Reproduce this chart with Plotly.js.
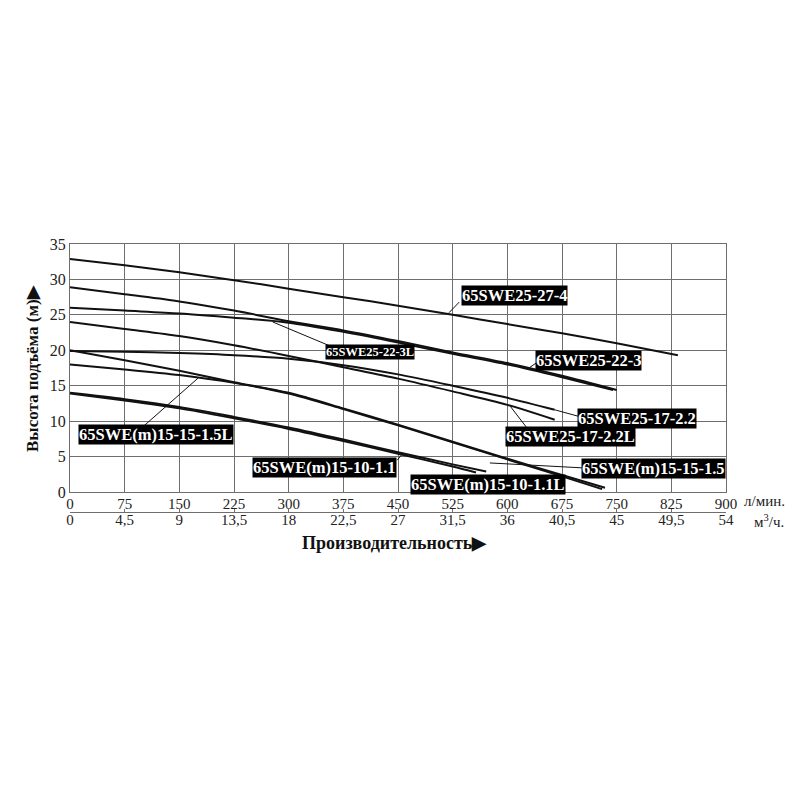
<!DOCTYPE html>
<html>
<head>
<meta charset="utf-8">
<script src="https://cdn.plot.ly/plotly-3.0.1.min.js"></script>
<style>body{margin:0;background:#fff}#chart{width:800px;height:800px}</style>
</head>
<body>
<div id="chart"></div>
<script>
// ---- data ----
const flowLpm   = [0, 75, 150, 225, 300, 375, 450, 525, 600, 675, 750, 825, 900];
const flowM3h   = ['0', '4,5', '9', '13,5', '18', '22,5', '27', '31,5', '36', '40,5', '45', '49,5', '54'];
const headTicks = [0, 5, 10, 15, 20, 25, 30, 35];

const q27_4 = [0, 75, 150, 225, 300, 375, 450, 525, 600, 675, 750, 834];
const h27_4 = [32.9, 32.0, 31.0, 29.9, 28.7, 27.5, 26.3, 25.0, 23.7, 22.4, 21.0, 19.3];

const q22_3 = [0, 75, 150, 225, 300, 375, 450, 525, 600, 675, 750];
const h22_3 = [28.9, 27.9, 26.9, 25.6, 24.1, 22.8, 21.3, 19.7, 18.2, 16.4, 14.4];

const q22_3L = [0, 75, 150, 225, 300, 375, 450, 525, 600, 675, 745];
const h22_3L = [26.0, 25.6, 25.2, 24.6, 23.9, 22.6, 21.1, 19.5, 18.0, 16.2, 14.4];

const q17_22 = [0, 75, 150, 225, 300, 375, 450, 525, 600, 665];
const h17_22 = [19.9, 19.8, 19.6, 19.3, 18.8, 17.9, 16.6, 15.0, 13.3, 11.6];

const q17_22L = [0, 75, 150, 225, 300, 375, 450, 525, 600, 665];
const h17_22L = [24.0, 23.0, 22.0, 20.7, 19.2, 17.6, 16.0, 14.2, 12.3, 10.2];

const q15_15 = [0, 75, 150, 225, 300, 375, 450, 525, 600, 675, 734];
const h15_15 = [20.0, 18.6, 17.1, 15.5, 14.0, 11.8, 9.5, 7.1, 4.7, 2.4, 0.6];

const q15_15L = [0, 75, 150, 225, 300, 375, 450, 525, 600, 675, 730];
const h15_15L = [18.0, 17.3, 16.5, 15.4, 13.9, 11.7, 9.4, 7.0, 4.6, 2.2, 0.4];

const q10_11 = [0, 75, 150, 225, 300, 375, 450, 525, 571];
const h10_11 = [14.0, 13.1, 12.0, 10.6, 9.1, 7.4, 5.6, 3.9, 2.9];

const q10_11L = [0, 75, 150, 225, 300, 375, 450, 525, 557];
const h10_11L = [13.9, 12.9, 11.8, 10.4, 8.9, 7.2, 5.4, 3.6, 2.75];

const seriesNames = ['65SWE25-27-4', '65SWE25-22-3', '65SWE25-22-3L', '65SWE25-17-2.2',
  '65SWE25-17-2.2L', '65SWE(m)15-15-1.5', '65SWE(m)15-15-1.5L', '65SWE(m)15-10-1.1', '65SWE(m)15-10-1.1L'];

// ---- chart ----
const SERIF = 'Liberation Serif, Times New Roman, serif';
const GRID = '#6e6e6e';
const series = [
  [q27_4, h27_4], [q22_3, h22_3], [q22_3L, h22_3L], [q17_22, h17_22], [q17_22L, h17_22L],
  [q15_15, h15_15], [q15_15L, h15_15L], [q10_11, h10_11], [q10_11L, h10_11L]
];
const traces = series.map((s, i) => ({
  type: 'scatter', mode: 'lines', x: s[0], y: s[1], name: seriesNames[i],
  line: {color: '#111', width: 2, shape: 'spline', smoothing: 0.8},
  hoverinfo: 'name', showlegend: false
}));
traces.push({type: 'scatter', mode: 'lines', x: [], y: [], xaxis: 'x2', yaxis: 'y', showlegend: false, hoverinfo: 'skip'});

// label boxes: [text, x, y, fontsize]
const labels = [
  ['65SWE25-27-4', 610, 27.8, 16.5],
  ['65SWE25-22-3L', 411, 19.75, 12.5],
  ['65SWE25-22-3', 712, 18.6, 16.5],
  ['65SWE25-17-2.2', 778, 10.4, 16.5],
  ['65SWE25-17-2.2L', 687, 7.8, 16.5],
  ['65SWE(m)15-15-1.5L', 118, 8.1, 16.5],
  ['65SWE(m)15-10-1.1', 349, 3.4, 16.5],
  ['65SWE(m)15-10-1.1L', 573, 1.0, 16.5],
  ['65SWE(m)15-15-1.5', 800, 3.3, 16.5]
];
// pointer lines: [x0, y0, x1, y1]
const pointers = [
  [520, 25.3, 534, 26.8],
  [278, 24.0, 357, 20.6],
  [631, 17.6, 641, 18.3],
  [665, 11.6, 697, 10.7],
  [604, 12.1, 628, 8.9],
  [100, 9.2, 176, 16.1],
  [449, 4.5, 457, 5.5],
  [576, 4.1, 704, 3.4]
];

const annotations = labels.map(l => ({
  xref: 'x', yref: 'y', x: l[1], y: l[2], text: l[0], showarrow: false,
  xanchor: 'center', yanchor: 'middle',
  bgcolor: '#000', borderpad: 0,
  font: {family: SERIF, size: l[3], color: '#fff', weight: 'bold'}
}));
annotations.push(
  {xref: 'paper', yref: 'paper', x: -0.0564, y: 0.563, xanchor: 'center', yanchor: 'middle',
   text: 'Высота подъёма (м)▶', textangle: -90,
   showarrow: false, font: {family: SERIF, size: 17, color: '#111', weight: 'bold'}},
  {xref: 'paper', yref: 'paper', x: 0.4954, y: -0.044, xanchor: 'center', yanchor: 'middle',
   text: 'Производительность▶',
   showarrow: false, font: {family: SERIF, size: 18, color: '#111', weight: 'bold'}},
  {xref: 'paper', yref: 'paper', x: 1.0244, y: 0.1, xanchor: 'left', yanchor: 'middle', text: 'л/мин.',
   showarrow: false, font: {family: SERIF, size: 15, color: '#222'}},
  {xref: 'paper', yref: 'paper', x: 1.0396, y: 0.031, xanchor: 'left', yanchor: 'middle', text: 'м<sup>3</sup>/ч.',
   showarrow: false, font: {family: SERIF, size: 15, color: '#222'}}
);

const shapes = pointers.map(p => ({
  type: 'line', xref: 'x', yref: 'y', x0: p[0], y0: p[1], x1: p[2], y1: p[3],
  line: {color: '#111', width: 1}
}));

const layout = {
  width: 800, height: 800,
  margin: {l: 70, r: 74, t: 244, b: 270, pad: 0},
  paper_bgcolor: '#fff', plot_bgcolor: '#fff',
  showlegend: false,
  xaxis: {
    range: [0, 900], tickvals: flowLpm, ticktext: flowLpm.map(String),
    showgrid: true, gridcolor: GRID, gridwidth: 1, zeroline: false,
    showline: true, mirror: true, linecolor: GRID, linewidth: 1, ticks: '',
    ticklabelstandoff: -2,
    tickfont: {family: SERIF, size: 15, color: '#222'}, anchor: 'y'
  },
  xaxis2: {
    overlaying: 'x', anchor: 'free', position: 0.0629, side: 'bottom',
    range: [0, 900], tickvals: flowLpm, ticktext: flowM3h,
    showgrid: false, zeroline: false, showline: true, linecolor: GRID, linewidth: 1,
    ticks: 'inside', ticklen: 3, tickcolor: GRID, ticklabelstandoff: -6,
    tickfont: {family: SERIF, size: 15, color: '#222'}
  },
  yaxis: {
    domain: [0.1329, 1], range: [0, 35], tickvals: headTicks,
    showgrid: true, gridcolor: GRID, gridwidth: 1, zeroline: false,
    showline: true, mirror: true, linecolor: GRID, linewidth: 1, ticks: '',
    tickfont: {family: SERIF, size: 16, color: '#222'}
  },
  annotations: annotations,
  shapes: shapes
};

Plotly.newPlot('chart', traces, layout, {displayModeBar: false, staticPlot: true});
</script>
</body>
</html>
